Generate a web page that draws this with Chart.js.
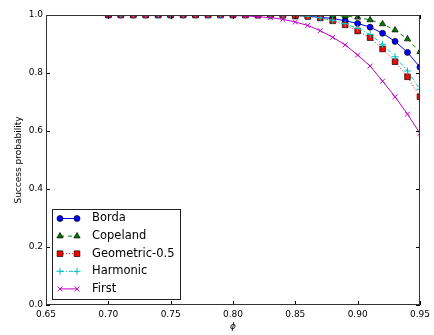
<!DOCTYPE html>
<html>
<head>
<meta charset="utf-8">
<script src="https://cdn.jsdelivr.net/npm/chart.js@4/dist/chart.umd.min.js"></script>
<style>
  html, body { margin: 0; padding: 0; background: #fff; }
  #wrap { width: 434px; height: 335px; }
</style>
</head>
<body>
<div id="wrap"><canvas id="chart" width="434" height="335"></canvas></div>
<script>
// values
const phi = [0.70, 0.71, 0.72, 0.73, 0.74, 0.75, 0.76, 0.77, 0.78, 0.79, 0.80, 0.81, 0.82,
             0.83, 0.84, 0.85, 0.86, 0.87, 0.88, 0.89, 0.90, 0.91, 0.92, 0.93, 0.94, 0.95];
const borda = [1, 1, 1, 1, 1, 1, 1, 1, 1, 1, 1, 1, 1,
               1, 1, 0.998, 0.996, 0.992, 0.988, 0.980, 0.971, 0.958, 0.937, 0.909, 0.871, 0.820];
const copeland = [1, 1, 1, 1, 1, 1, 1, 1, 1, 1, 1, 1, 1,
                  1, 1, 1, 0.999, 0.999, 0.998, 0.996, 0.992, 0.983, 0.969, 0.948, 0.917, 0.873];
const geometric = [1, 1, 1, 1, 1, 1, 1, 1, 1, 1, 1, 1, 1,
                   1, 0.999, 0.997, 0.995, 0.990, 0.980, 0.966, 0.945, 0.922, 0.883, 0.839, 0.787, 0.718];
const harmonic = [1, 1, 1, 1, 1, 1, 1, 1, 1, 1, 1, 1, 1,
                  1, 1, 0.998, 0.996, 0.990, 0.982, 0.970, 0.954, 0.933, 0.899, 0.856, 0.807, 0.744];
const first = [1, 1, 1, 1, 1, 1, 1, 1, 0.999, 0.998, 0.998, 0.997, 0.994,
               0.991, 0.985, 0.976, 0.964, 0.946, 0.923, 0.897, 0.862, 0.824, 0.772, 0.718, 0.658, 0.592];
const xTicks = [0.65, 0.70, 0.75, 0.80, 0.85, 0.90, 0.95];
const yTicks = [0.0, 0.2, 0.4, 0.6, 0.8, 1.0];

const FONT = 'DejaVu Sans';

function toPoints(ys) {
    return ys.map((y, i) => ({ x: phi[i], y: y }));
}

const series = [
    { label: 'Borda', data: borda, color: '#0000ff', dash: [], style: 'circle', r: 3, fill: '#0000ff', edge: '#000000' },
    { label: 'Copeland', data: copeland, color: '#008000', dash: [4, 4], style: 'triangle', r: 3.6, fill: '#008000', edge: '#000000' },
    { label: 'Geometric-0.5', data: geometric, color: '#ff0000', dash: [1, 2], style: 'rect', r: 4, fill: '#ff0000', edge: '#000000' },
    { label: 'Harmonic', data: harmonic, color: '#00bfbf', dash: [4, 2, 1, 2], style: 'cross', r: 3.5, fill: '#00bfbf', edge: '#00bfbf' },
    { label: 'First', data: first, color: '#bf00bf', dash: [], style: 'crossRot', r: 3.5, fill: '#bf00bf', edge: '#bf00bf' }
];

// frame, inward ticks and legend box
const framePlugin = {
    id: 'frame',
    afterDraw(chart) {
        const ctx = chart.ctx;
        const a = chart.chartArea;
        const xs = chart.scales.x, ys = chart.scales.y;
        ctx.save();
        ctx.strokeStyle = '#000';
        ctx.lineWidth = 1;
        ctx.beginPath();
        xTicks.forEach(v => {
            const px = Math.round(xs.getPixelForValue(v)) + 0.5;
            ctx.moveTo(px, a.bottom); ctx.lineTo(px, a.bottom - 4);
            ctx.moveTo(px, a.top); ctx.lineTo(px, a.top + 4);
        });
        yTicks.forEach(v => {
            const py = Math.round(ys.getPixelForValue(v)) + 0.5;
            ctx.moveTo(a.left, py); ctx.lineTo(a.left + 4, py);
            ctx.moveTo(a.right, py); ctx.lineTo(a.right - 4, py);
        });
        ctx.stroke();
        ctx.strokeStyle = '#333';
        ctx.strokeRect(a.left + 0.5, a.top + 0.5, a.right - a.left - 1, a.bottom - a.top - 1);

        // legend
        const bx = 52.5, by = 209.5, bw = 128, bh = 90;
        ctx.fillStyle = '#fff';
        ctx.fillRect(bx, by, bw, bh);
        ctx.strokeStyle = '#222';
        ctx.strokeRect(bx, by, bw, bh);
        series.forEach((s, i) => {
            const y = 218.5 + i * 17.6;
            ctx.strokeStyle = s.color;
            ctx.lineWidth = 1;
            ctx.setLineDash(s.dash);
            ctx.beginPath();
            ctx.moveTo(60, y); ctx.lineTo(77, y);
            ctx.stroke();
            ctx.setLineDash([]);
            [60, 77].forEach(mx => {
                ctx.fillStyle = s.fill;
                ctx.strokeStyle = s.edge;
                ctx.lineWidth = s.style === 'cross' || s.style === 'crossRot' ? 1 : 0.7;
                Chart.helpers.drawPoint(ctx, { pointStyle: s.style, radius: s.r, borderWidth: ctx.lineWidth }, mx, y);
            });
            ctx.fillStyle = '#000';
            ctx.font = '11.5px "' + FONT + '"';
            ctx.textBaseline = 'middle';
            ctx.textAlign = 'left';
            ctx.fillText(s.label, 92, y);
        });
        ctx.restore();
    }
};

new Chart(document.getElementById('chart'), {
    type: 'line',
    data: {
        datasets: series.map((s, i) => ({
            label: s.label,
            data: toPoints(s.data),
            borderColor: s.color,
            borderWidth: 1,
            borderDash: s.dash,
            pointStyle: s.style,
            pointRadius: s.r,
            pointBackgroundColor: s.fill,
            pointBorderColor: s.edge,
            pointBorderWidth: s.style === 'cross' || s.style === 'crossRot' ? 1 : 0.7,
            tension: 0,
            fill: false,
            clip: 0,
            order: series.length - i
        }))
    },
    options: {
        responsive: false,
        animation: false,
        events: [],
        layout: { padding: { top: 15, right: 12, left: 0, bottom: 0 } },
        plugins: { legend: { display: false }, tooltip: { enabled: false } },
        scales: {
            x: {
                type: 'linear',
                min: 0.65, max: 0.95,
                grid: { display: false, drawTicks: false },
                border: { display: false },
                afterBuildTicks: sc => { sc.ticks = xTicks.map(v => ({ value: v })); },
                afterFit: sc => { sc.height = 30; },
                ticks: {
                    padding: 4,
                    color: '#000',
                    font: { family: FONT, size: 9 },
                    maxRotation: 0,
                    callback: v => v.toFixed(2)
                },
                title: {
                    display: true, text: 'ϕ', color: '#000',
                    font: { family: FONT, size: 9, style: 'italic' },
                    padding: { top: 0, bottom: 3 }
                }
            },
            y: {
                min: 0, max: 1,
                grid: { display: false, drawTicks: false },
                border: { display: false },
                afterBuildTicks: sc => { sc.ticks = yTicks.map(v => ({ value: v })); },
                afterFit: sc => { sc.width = 46; },
                ticks: {
                    padding: 3,
                    color: '#000',
                    font: { family: FONT, size: 9 },
                    callback: v => v.toFixed(1)
                },
                title: {
                    display: true, text: 'Success probability', color: '#000',
                    font: { family: FONT, size: 9 },
                    padding: { top: 13, bottom: 0 }
                }
            }
        }
    },
    plugins: [framePlugin]
});
</script>
</body>
</html>
